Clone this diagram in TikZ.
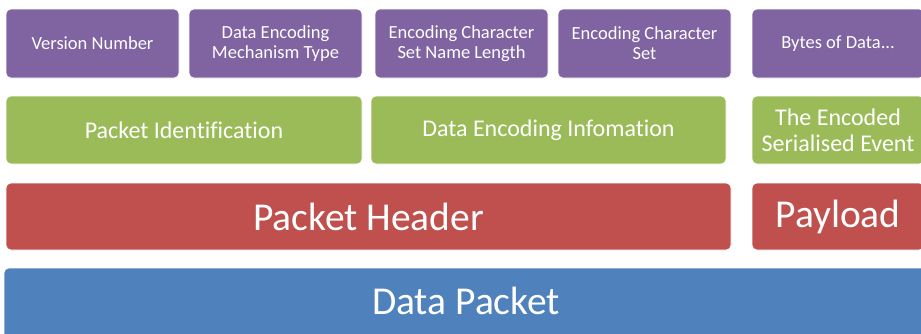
\documentclass[tikz,border=0pt]{standalone}
\usepackage{fontspec}
\setmainfont[Ligatures=CommonOff]{Carlito}
\definecolor{cpurple}{HTML}{8064A2}
\definecolor{cgreen}{HTML}{9BBB59}
\definecolor{cred}{HTML}{C0504D}
\definecolor{cblue}{HTML}{4F81BD}
\begin{document}
\begin{tikzpicture}[x=1pt,y=-1pt,
  box/.style={rounded corners=5pt, draw=white, line width=0.6pt, inner sep=0pt, outer sep=0pt,
              anchor=north west, text=white, align=center},
  pbox/.style={box, fill=cpurple, minimum width=173pt, minimum height=69pt,
               font=\fontsize{18.5}{20}\selectfont},
  gbox/.style={box, fill=cgreen, minimum height=68pt, font=\fontsize{24}{26}\selectfont},
  rbox/.style={box, fill=cred, minimum height=67pt, font=\fontsize{39.5}{42}\selectfont},
  bbox/.style={box, fill=cblue, minimum height=75pt}]
\clip (0,0) rectangle (921,333);
\fill[white] (0,0) rectangle (921,333);
% purple row
\node[pbox] (vn) at (6,9) {Version Number};
\node[pbox] (dem) at (189,9) {Data Encoding\\Mechanism Type};
\node[pbox] (ecl) at (375,9) {Encoding Character\\Set Name Length};
\node[pbox] (ecs) at (558,9) {Encoding Character\\Set};
\node[pbox, minimum width=172pt] (bod) at (752,9) {Bytes of Data...};
% green row
\node[gbox, minimum width=356pt] (pid) at (6,96) {Packet Identification};
\node[gbox, minimum width=355pt] (dei) at (371,96) {Data Encoding Infomation};
\node[gbox, minimum width=172pt] (ese) at (752,96) {The Encoded\\Serialised Event};
% red row
\node[rbox, minimum width=725pt] (ph) at (6,183) {Packet Header};
\node[rbox, minimum width=172pt] (pl) at (752,183) {Payload};
% blue row
\node[bbox, minimum width=924pt] (dp) at (4,268) {};
\node[text=white, font=\fontsize{39.5}{42}\selectfont, inner sep=0pt] (dpt) at (466,301) {Data Packet};
\end{tikzpicture}
\end{document}
